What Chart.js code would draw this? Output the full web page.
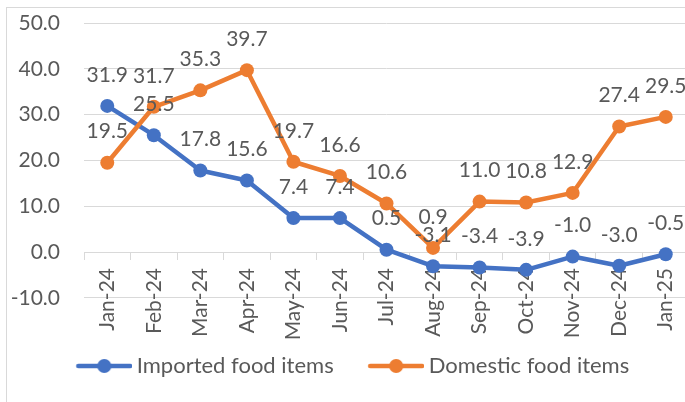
<!DOCTYPE html>
<html>
<head>
<meta charset="utf-8">
<script src="https://cdn.jsdelivr.net/npm/chart.js@4.4.1/dist/chart.umd.min.js"></script>
<style>
  html, body { margin: 0; padding: 0; background: #fff; overflow: hidden; }
  #wrap { position: absolute; left: 6px; top: 7px; width: 690px; height: 400px; border: 1px solid #d9d9d9; }
</style>
</head>
<body>
<div id="wrap"><canvas id="chart"></canvas></div>
<script>
  // ---- data ----
  const months = ['Jan-24', 'Feb-24', 'Mar-24', 'Apr-24', 'May-24', 'Jun-24', 'Jul-24',
                  'Aug-24', 'Sep-24', 'Oct-24', 'Nov-24', 'Dec-24', 'Jan-25'];
  const importedFood = [31.9, 25.5, 17.8, 15.6, 7.4, 7.4, 0.5, -3.1, -3.4, -3.9, -1.0, -3.0, -0.5];
  const domesticFood = [19.5, 31.7, 35.3, 39.7, 19.7, 16.6, 10.6, 0.9, 11.0, 10.8, 12.9, 27.4, 29.5];
  const yTickValues = [-10, 0, 10, 20, 30, 40, 50];

  const BLUE = '#4472C4';
  const ORANGE = '#ED7D31';
  const TEXT = '#595959';
  const GRID = '#d9d9d9';
  const FONT = { family: 'Lato', size: 21 };

  // legend icon: line with a dot in the middle, transparent space on the left
  function legendIcon(color) {
    const c = document.createElement('canvas');
    const gap = 20;
    c.width = 56 + gap;
    c.height = 16;
    const g = c.getContext('2d');
    g.strokeStyle = color;
    g.lineWidth = 4.5;
    g.lineCap = 'round';
    g.beginPath();
    g.moveTo(gap + 2, 8);
    g.lineTo(gap + 54, 8);
    g.stroke();
    g.fillStyle = color;
    g.beginPath();
    g.arc(gap + 28, 8, 7, 0, Math.PI * 2);
    g.fill();
    return c;
  }

  // value labels above each point
  const pointLabels = {
    id: 'pointLabels',
    afterDatasetsDraw(chart) {
      const ctx = chart.ctx;
      ctx.save();
      ctx.font = FONT.size + 'px ' + FONT.family;
      ctx.fillStyle = TEXT;
      ctx.textAlign = 'center';
      ctx.textBaseline = 'middle';
      chart.data.datasets.forEach((ds, i) => {
        chart.getDatasetMeta(i).data.forEach((pt, j) => {
          ctx.fillText(ds.data[j].toFixed(1), pt.x, pt.y - 31);
        });
      });
      ctx.restore();
    }
  };

  function series(label, values, color, order) {
    return {
      label,
      data: values,
      borderColor: color,
      backgroundColor: color,
      borderWidth: 4.5,
      borderJoinStyle: 'round',
      borderCapStyle: 'round',
      pointRadius: 7,
      pointBorderWidth: 0,
      pointBackgroundColor: color,
      tension: 0,
      order
    };
  }

  new Chart(document.getElementById('chart'), {
    type: 'line',
    data: {
      labels: months,
      datasets: [
        series('Imported food items', importedFood, BLUE, 1),
        series('Domestic food items', domesticFood, ORANGE, 0)
      ]
    },
    options: {
      responsive: true,
      maintainAspectRatio: false,
      animation: false,
      layout: { padding: { top: 15, left: -4, right: 8, bottom: 21 } },
      plugins: {
        tooltip: { enabled: false },
        legend: {
          position: 'bottom',
          // empty title just opens the gap under the plot
          title: { display: true, text: '', font: { size: 1 }, padding: { top: 35, bottom: 0 } },
          labels: {
            usePointStyle: true,
            pointStyleWidth: 63,
            padding: 21,
            color: TEXT,
            font: { family: 'Lato', size: 22 },
            sort: (a, b) => a.datasetIndex - b.datasetIndex,
            generateLabels: (chart) => chart.data.datasets.map((ds, i) => ({
              text: ds.label,
              datasetIndex: i,
              pointStyle: legendIcon(ds.borderColor),
              fillStyle: ds.borderColor,
              strokeStyle: ds.borderColor,
              fontColor: TEXT,
              lineWidth: 0,
              hidden: false
            }))
          }
        }
      },
      scales: {
        // category axis sits on the zero line, labels hang below it
        x: {
          position: { y: 0 },
          offset: true,
          afterFit: (axis) => { axis.height = 0; axis.paddingLeft = 0; axis.paddingRight = 0; },
          grid: { offset: true, drawOnChartArea: false, drawTicks: true, tickLength: 7, color: GRID },
          border: { color: GRID },
          ticks: {
            minRotation: 90,
            maxRotation: 90,
            autoSkip: false,
            padding: 9,
            color: TEXT,
            font: FONT
          }
        },
        y: {
          min: yTickValues[0],
          max: yTickValues[yTickValues.length - 1],
          afterBuildTicks: (axis) => { axis.ticks = yTickValues.map(v => ({ value: v })); },
          afterFit: (axis) => { axis.width = 81; axis.paddingTop = 0; axis.paddingBottom = 0; },
          grid: { color: GRID, drawTicks: false },
          border: { display: false },
          ticks: {
            padding: 24,
            color: TEXT,
            font: FONT,
            callback: (v) => Number(v).toFixed(1)
          }
        }
      }
    },
    plugins: [pointLabels]
  });
</script>
</body>
</html>
